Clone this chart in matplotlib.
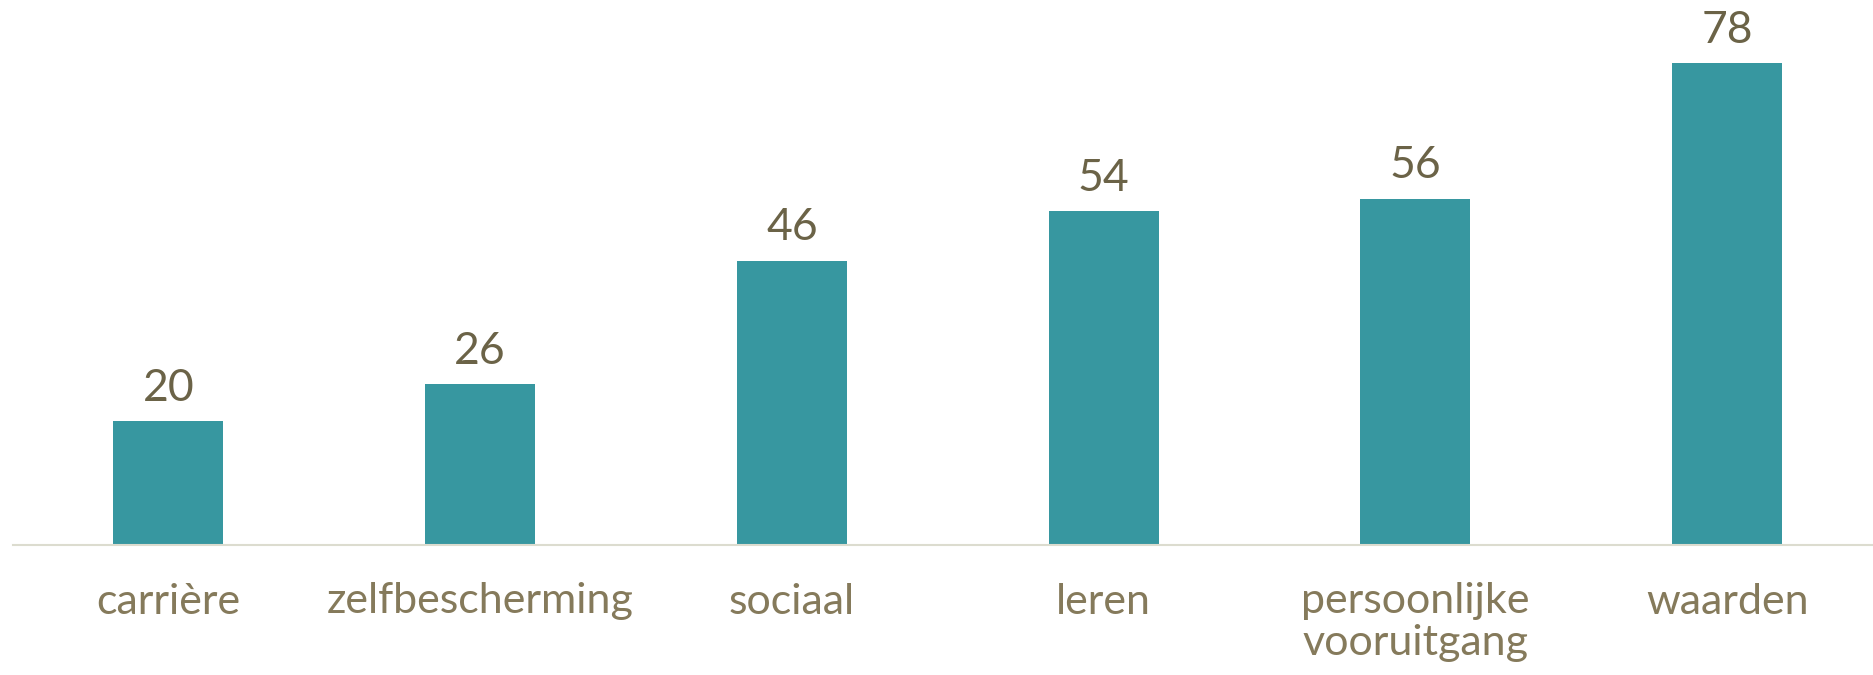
import matplotlib
matplotlib.use("Agg")
import matplotlib.pyplot as plt

categories = ["carrière", "zelfbescherming", "sociaal", "leren", "persoonlijke\nvooruitgang", "waarden"]
values = [20, 26, 46, 54, 56, 78]

BAR = "#3797A0"
NUM = "#6B6347"
CAT = "#857A5B"
AXIS = "#DCDCCF"

plt.rcParams['font.family'] = ['Lato', 'DejaVu Sans']

fig = plt.figure(figsize=(18.73, 6.75), dpi=100)
left = 12.5 / 1873
width = (1883 - 12.5) / 1873
ax = fig.add_axes([left, 130/675, width, 1 - 130/675])
x = list(range(len(categories)))
bars = ax.bar(x, values, width=0.353, color=BAR)
ax.set_xlim(-0.5, len(categories) - 0.5)
ax.set_ylim(0, 88.2)
for xi, v in zip(x, values):
    ax.annotate(str(v), (xi, v), xytext=(0, 9), textcoords="offset points",
                ha="center", va="bottom", fontsize=32, color=NUM)
ax.set_xticks(x)
ax.set_xticklabels(categories, fontsize=31, color=CAT, linespacing=1.12, va="top")
ax.tick_params(axis="x", length=0, pad=27)
ax.set_yticks([])
for s in ["top", "right", "left"]:
    ax.spines[s].set_visible(False)
ax.spines["bottom"].set_color(AXIS)
ax.spines["bottom"].set_linewidth(1.5)
fig.savefig("out.png", dpi=100)
